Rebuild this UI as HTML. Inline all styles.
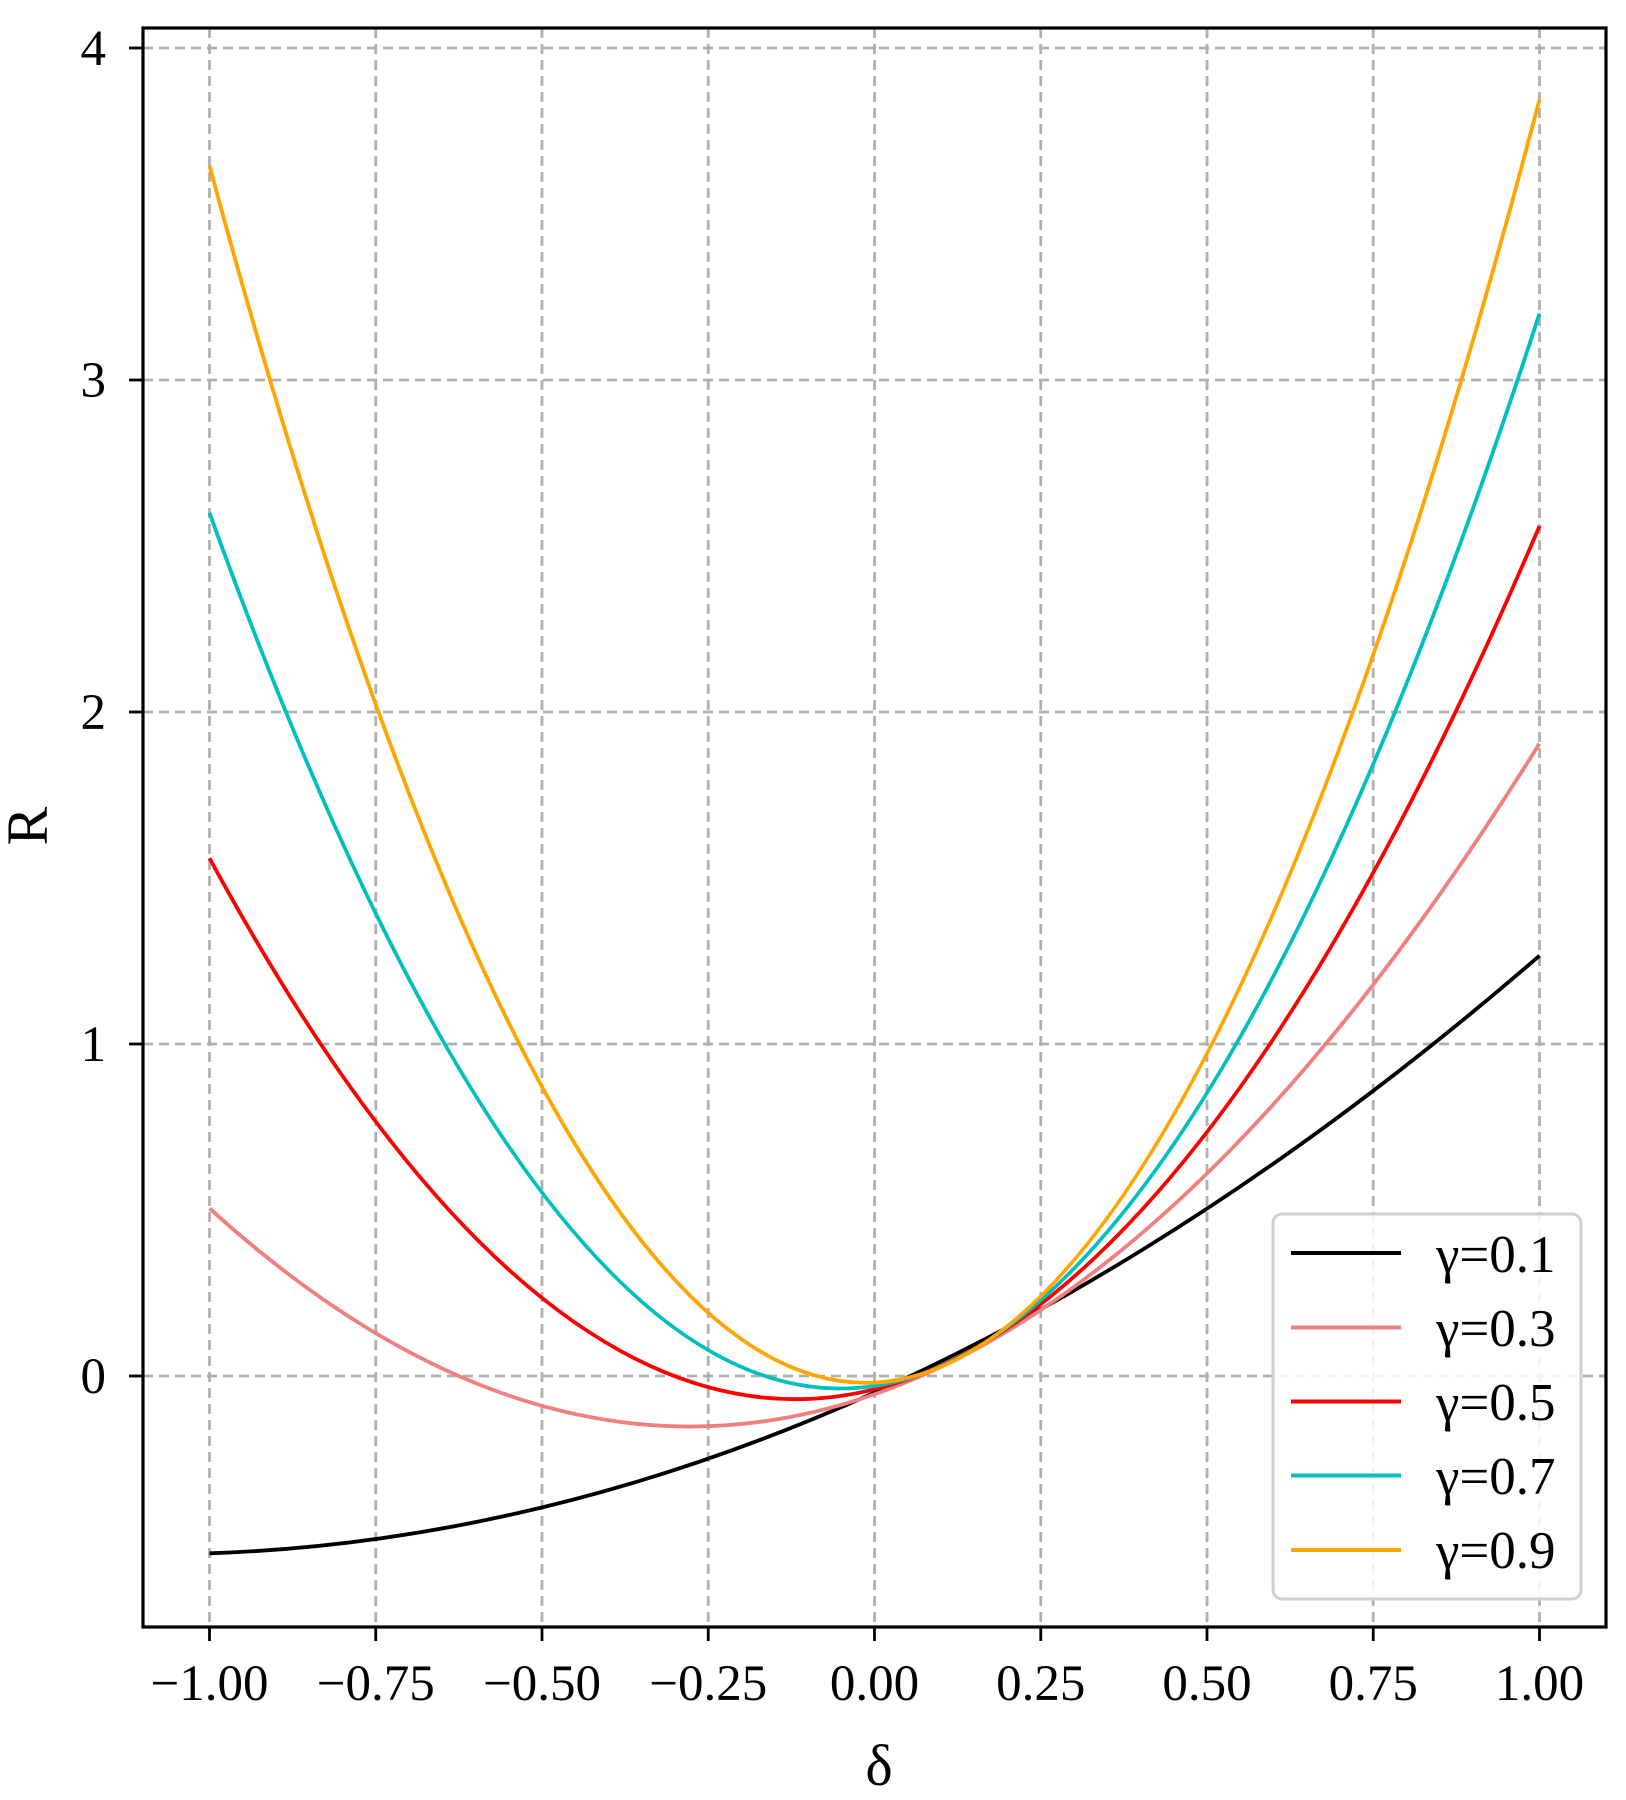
<!DOCTYPE html>
<html><head><meta charset="utf-8"><style>html,body{margin:0;padding:0;background:#fff}</style></head>
<body>
<svg width="1626" height="1795" viewBox="0 0 1626 1795" xmlns="http://www.w3.org/2000/svg" style="font-family:'Liberation Serif',serif">
<rect width="1626" height="1795" fill="#fff"/>
<g stroke="#b0b0b0" stroke-width="2.8" stroke-dasharray="10,6" fill="none">
<line x1="209.5" y1="28" x2="209.5" y2="1627"/>
<line x1="375.75" y1="28" x2="375.75" y2="1627"/>
<line x1="542" y1="28" x2="542" y2="1627"/>
<line x1="708.25" y1="28" x2="708.25" y2="1627"/>
<line x1="874.5" y1="28" x2="874.5" y2="1627"/>
<line x1="1040.75" y1="28" x2="1040.75" y2="1627"/>
<line x1="1207" y1="28" x2="1207" y2="1627"/>
<line x1="1373.25" y1="28" x2="1373.25" y2="1627"/>
<line x1="1539.5" y1="28" x2="1539.5" y2="1627"/>
<line x1="143" y1="1376" x2="1606" y2="1376"/>
<line x1="143" y1="1044" x2="1606" y2="1044"/>
<line x1="143" y1="712" x2="1606" y2="712"/>
<line x1="143" y1="380" x2="1606" y2="380"/>
<line x1="143" y1="48" x2="1606" y2="48"/>
</g>
<g fill="none" stroke-width="3.8">
<path d="M209.5,1553.3 Q874.5,1530.7 1539.5,955.7" stroke="#000"/>
<path d="M209.5,1208.3 Q874.5,1812.6 1539.5,743.5" stroke="#f08080"/>
<path d="M209.5,858.1 Q874.5,2086.5 1539.5,526.1" stroke="#ff0000"/>
<path d="M209.5,512.8 Q874.5,2358.7 1539.5,313.6" stroke="#00bfbf"/>
<path d="M209.5,165.9 Q874.5,2632.6 1539.5,99.5" stroke="#ffa500"/>
</g>
<rect x="143" y="28" width="1463" height="1599" fill="none" stroke="#000" stroke-width="3.2"/>
<g stroke="#000" stroke-width="2.8">
<line x1="209.5" y1="1627" x2="209.5" y2="1641"/>
<line x1="375.75" y1="1627" x2="375.75" y2="1641"/>
<line x1="542" y1="1627" x2="542" y2="1641"/>
<line x1="708.25" y1="1627" x2="708.25" y2="1641"/>
<line x1="874.5" y1="1627" x2="874.5" y2="1641"/>
<line x1="1040.75" y1="1627" x2="1040.75" y2="1641"/>
<line x1="1207" y1="1627" x2="1207" y2="1641"/>
<line x1="1373.25" y1="1627" x2="1373.25" y2="1641"/>
<line x1="1539.5" y1="1627" x2="1539.5" y2="1641"/>
<line x1="129" y1="1376" x2="143" y2="1376"/>
<line x1="129" y1="1044" x2="143" y2="1044"/>
<line x1="129" y1="712" x2="143" y2="712"/>
<line x1="129" y1="380" x2="143" y2="380"/>
<line x1="129" y1="48" x2="143" y2="48"/>
</g>
<g font-size="51" text-anchor="middle" fill="#000">
<text x="209.5" y="1700">−1.00</text>
<text x="375.75" y="1700">−0.75</text>
<text x="542" y="1700">−0.50</text>
<text x="708.25" y="1700">−0.25</text>
<text x="874.5" y="1700">0.00</text>
<text x="1040.75" y="1700">0.25</text>
<text x="1207" y="1700">0.50</text>
<text x="1373.25" y="1700">0.75</text>
<text x="1539.5" y="1700">1.00</text>
</g>
<g font-size="51" text-anchor="end" fill="#000">
<text x="106" y="1393">0</text>
<text x="106" y="1061">1</text>
<text x="106" y="729">2</text>
<text x="106" y="397">3</text>
<text x="106" y="65">4</text>
</g>
<text x="879" y="1785" font-size="58" text-anchor="middle">δ</text>
<text transform="translate(47,826) rotate(-90)" font-size="58" text-anchor="middle">R</text>
<rect x="1273" y="1214" width="308" height="385" rx="9" fill="#fff" fill-opacity="0.85" stroke="#d0d0d0" stroke-width="3"/>
<g stroke-width="4">
<line x1="1291" y1="1253" x2="1401" y2="1253" stroke="#000"/>
<line x1="1291" y1="1327.5" x2="1401" y2="1327.5" stroke="#f08080"/>
<line x1="1291" y1="1401.5" x2="1401" y2="1401.5" stroke="#ff0000"/>
<line x1="1291" y1="1475.5" x2="1401" y2="1475.5" stroke="#00bfbf"/>
<line x1="1291" y1="1550" x2="1401" y2="1550" stroke="#ffa500"/>
</g>
<g font-size="53" fill="#000">
<text x="1436" y="1272">γ=0.1</text>
<text x="1436" y="1346">γ=0.3</text>
<text x="1436" y="1420">γ=0.5</text>
<text x="1436" y="1494">γ=0.7</text>
<text x="1436" y="1568">γ=0.9</text>
</g>
</svg>
</body></html>
